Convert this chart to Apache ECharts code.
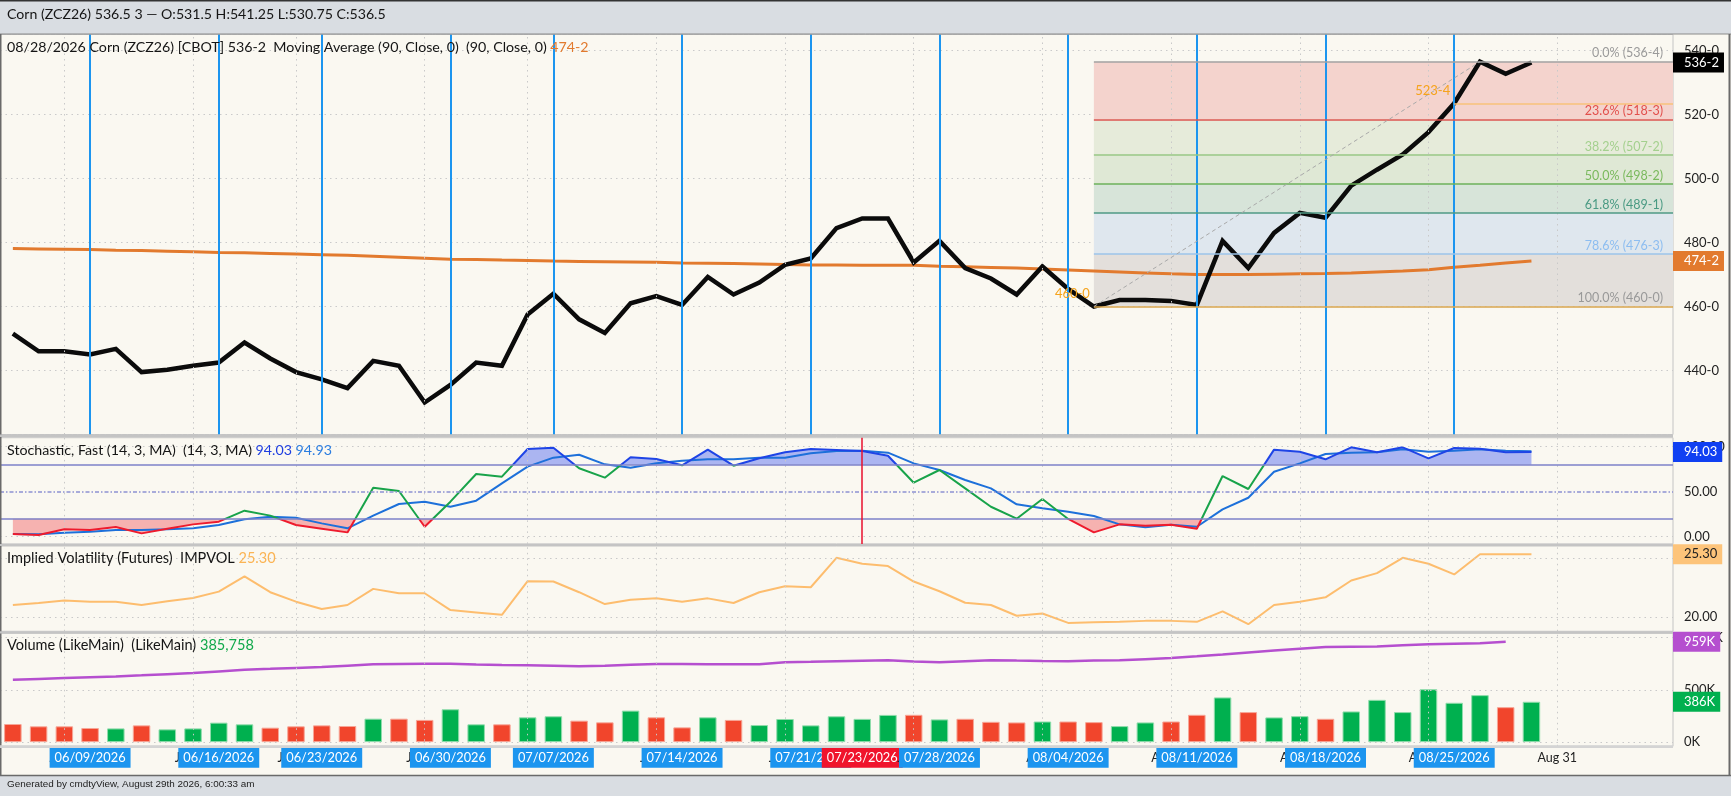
<!DOCTYPE html>
<html><head><meta charset="utf-8">
<script src="https://cdn.jsdelivr.net/npm/echarts@6/dist/echarts.min.js"></script>
<style>html,body{margin:0;padding:0;background:#faf8f1;}#c{width:1731px;height:796px;}</style>
</head><body><div id="c"></div>
<script>
// ---------------- DATA ----------------
const dates = ['06/04/2026','06/05/2026','06/08/2026','06/09/2026','06/10/2026','06/11/2026','06/12/2026','06/15/2026','06/16/2026','06/17/2026','06/18/2026','06/22/2026','06/23/2026','06/24/2026','06/25/2026','06/26/2026','06/29/2026','06/30/2026','07/01/2026','07/02/2026','07/06/2026','07/07/2026','07/08/2026','07/09/2026','07/10/2026','07/13/2026','07/14/2026','07/15/2026','07/16/2026','07/17/2026','07/20/2026','07/21/2026','07/22/2026','07/23/2026','07/24/2026','07/27/2026','07/28/2026','07/29/2026','07/30/2026','07/31/2026','08/03/2026','08/04/2026','08/05/2026','08/06/2026','08/07/2026','08/10/2026','08/11/2026','08/12/2026','08/13/2026','08/14/2026','08/17/2026','08/18/2026','08/19/2026','08/20/2026','08/21/2026','08/24/2026','08/25/2026','08/26/2026','08/27/2026','08/28/2026'];
const futureDates = ['08/31/2026','09/01/2026','09/02/2026','09/03/2026','09/04/2026'];
const closes = [451.5,446,446,445,446.75,439.5,440.25,441.5,442.5,448.75,443.75,439.5,437.25,434.5,443,441.5,430,435.5,442.5,441.5,457.5,464,456,451.75,461,463.25,460.5,469.25,463.75,467.5,473,475,484.5,487.5,487.5,473.75,480.5,472,468.75,463.75,472.5,465.5,460,462,462,461.75,460.5,480.5,472,483,489.25,487.75,497.75,502.75,507.5,514.5,523.5,536.5,532.75,536.25];
const ma90 = [478.1,478.0,477.9,477.8,477.6,477.5,477.3,477.1,476.9,476.8,476.6,476.4,476.2,476.0,475.7,475.4,475.1,474.8,474.7,474.5,474.4,474.2,474.1,474.0,473.9,473.8,473.6,473.5,473.4,473.3,473.1,473.0,473.0,472.9,472.9,472.9,472.6,472.4,472.2,472.0,471.7,471.4,471.1,470.8,470.5,470.2,470.0,470.0,470.0,470.1,470.2,470.3,470.5,470.8,471.1,471.5,472.3,472.9,473.6,474.25];
const stochK = [3.0,1.9,8.2,7.4,10.8,3.7,8.9,13.7,16.7,28.9,23.4,13.0,8.9,4.8,54.5,50.8,11.1,38.9,69.7,66.7,97.4,98.9,76.0,65.6,88.2,86.3,79.3,96.7,78.9,87.1,93.8,97.4,96.3,95.2,90.0,60.0,74.1,53.7,33.3,20.0,41.9,19.7,4.8,13.7,12.2,13.4,8.9,67.4,53.0,96.7,94.4,86.0,99.3,93.8,99.3,87.1,98.6,97.8,93.8,94.03];
const stochD = [3.0,2.6,4.4,5.6,7.4,7.4,8.2,9.3,13.0,19.3,22.2,21.1,14.8,9.3,23.4,36.3,38.9,33.3,40.0,59.3,77.8,87.8,91.1,80.4,76.7,81.5,84.4,86.0,86.0,87.8,87.8,92.6,95.2,95.6,93.4,81.5,74.1,63.0,53.7,36.0,31.5,27.8,23.0,13.7,10.4,13.3,11.1,30.4,43.3,72.2,81.5,91.9,93.4,93.8,97.1,94.4,95.6,97.1,95.6,94.93];
const impVol = [21.02,21.19,21.39,21.3,21.3,21.02,21.33,21.61,22.15,23.43,22.1,21.3,20.68,21.02,22.38,22.01,22.01,20.59,20.39,20.19,23.03,23.0,22.1,21.1,21.47,21.58,21.3,21.58,21.19,22.1,22.6,22.52,25.0,24.5,24.31,23.0,22.18,21.21,21.02,20.11,20.3,19.51,19.57,19.6,19.68,19.68,19.6,20.48,19.4,21.02,21.3,21.67,23.09,23.71,25.0,24.5,23.6,25.3,25.3,25.3];
const volume = [173000,151000,151000,135000,131000,160000,122000,131000,186000,170000,138000,151000,160000,154000,224000,224000,212000,314000,170000,170000,237000,247000,205000,189000,301000,237000,141000,237000,212000,163000,221000,160000,247000,222000,260000,261000,217000,223000,194000,188000,197000,197000,191000,153000,188000,197000,261000,427000,287000,236000,248000,223000,293000,404000,287000,506000,376000,449000,334000,385758];
const volUp = [0,0,0,0,1,0,1,1,1,1,0,0,0,0,1,0,0,1,1,0,1,1,0,0,1,0,0,1,0,1,1,1,1,1,1,0,1,0,0,0,1,0,0,1,1,0,0,1,0,1,1,0,1,1,1,1,1,1,0,1];
const volMA = [596000,604000,612000,620000,628000,638000,649000,660000,676000,692000,700000,709000,718000,731000,744000,747000,749000,750000,742000,736000,734000,729000,724000,731000,739000,747000,746000,745000,744000,744000,763000,767000,772000,777000,782000,770000,764000,774000,783000,779000,776000,774000,779000,783000,793000,803000,820000,838000,857000,876000,892000,908000,911000,914000,925000,936000,941000,946000,959000];
const tuesdayDates = ['06/09/2026','06/16/2026','06/23/2026','06/30/2026','07/07/2026','07/14/2026','07/21/2026','07/28/2026','08/04/2026','08/11/2026','08/18/2026','08/25/2026'];
const highlightDate = '07/23/2026';
const mondayDates = ['06/08/2026','06/15/2026','06/22/2026','06/29/2026','07/06/2026','07/13/2026','07/20/2026','07/27/2026','08/03/2026','08/10/2026','08/17/2026','08/24/2026','08/31/2026'];
const mondayLabels = ['Jun 8','Jun 15','Jun 22','Jun 29','Jul 6','Jul 13','Jul 20','Jul 27','Aug 3','Aug 10','Aug 17','Aug 24','Aug 31'];
const fibRatios = [0, 0.236, 0.382, 0.5, 0.618, 0.786, 1];
const fibLabels = ['0.0% (536-4)','23.6% (518-3)','38.2% (507-2)','50.0% (498-2)','61.8% (489-1)','78.6% (476-3)','100.0% (460-0)'];
const fibHigh = 536.5, fibLow = 460, fibLowIdx = 42, fibHighIdx = 57;
const retraceLevel = 523.5, retraceIdx = 56;

// ---------------- STYLE / LAYOUT ----------------
const FONT = 'Lato';
const BG = '#faf8f1';
const GL = 0, GR = 58;
const P = [
  {top: 34.5, height: 400},
  {top: 437.7, height: 106.2},
  {top: 546, height: 85.3},
  {top: 633.3, height: 113}
];
const fibZoneColors = ['#f4d3cd','#e6ebda','#dfe8d5','#d7e4d9','#dfe7ee','#e3dfdb'];
const fibLineColors = ['#a3a3a3','#dc5450','#97c784','#6db25a','#4f9a85','#9dc4ea','#d8a64e'];
const fibTextColors = ['#9a9a9a','#e2504c','#a4d08e','#7ab95d','#4a9a83','#8dbdf0','#999999'];

const axisCats = dates.concat(futureDates);
const nCat = axisCats.length;
const mondayIdx = mondayDates.map(d => axisCats.indexOf(d));
const tuesIdx = tuesdayDates.map(d => axisCats.indexOf(d));
const hiIdx = axisCats.indexOf(highlightDate);
const last = a => a[a.length - 1];
const toFrac = v => { const w = Math.floor(v + 1e-9); return w + '-' + Math.round((v - w) * 8); };
const kFmt = v => Math.round(v / 1000) + 'K';
const xy = a => a.map((v, i) => [i, v]);

// fit a title's font size so that its width matches the reference text width
const mctx = document.createElement('canvas').getContext('2d');
function fitSize(text, targetW, family) {
  mctx.font = '100px ' + family;
  const w = mctx.measureText(text).width;
  return Math.max(9, Math.min(16, 100 * targetW / w));
}

const dotStyle = {color: '#c9c9c9', type: [1.5, 4], width: 1};
const monLines = cat => mondayIdx.map(i => ({xAxis: cat ? axisCats[i] : i, lineStyle: dotStyle}));
const hLine = (v, style) => ({yAxis: v, lineStyle: style});
const endLabel = (v, text, bg, fg) => ({yAxis: v, lineStyle: {color: 'rgba(0,0,0,0)', width: 1, type: 'solid'},
  label: {show: true, position: 'end', formatter: text, backgroundColor: bg, color: fg,
    padding: [4, 5, 3, 11], fontSize: 13, fontFamily: FONT, distance: 0}});
const mlBase = {silent: true, symbol: ['none', 'none'], animation: false, label: {show: false}};

const fibVals = fibRatios.map(r => fibHigh - r * (fibHigh - fibLow));
const xEnd = nCat - 0.5;
const fibZones = fibZoneColors.map((c, i) => [
  {coord: [fibLowIdx, fibVals[i]], itemStyle: {color: c}},
  {coord: [xEnd, fibVals[i + 1]]}
]);
const fibLines = fibVals.map((v, i) => [
  {coord: [fibLowIdx, v], lineStyle: {color: fibLineColors[i], width: 1.5, type: 'solid'},
   label: {show: true, position: 'insideEndTop', formatter: fibLabels[i], color: fibTextColors[i],
     fontSize: 12.5, fontFamily: FONT, distance: [10, 2]}},
  {coord: [xEnd, v]}
]);

// stochastic fills
function fillPolys(vals, level, above) {
  const polys = []; let cur = null;
  const inside = v => above ? v > level : v < level;
  for (let i = 0; i < vals.length; i++) {
    const v = vals[i], inn = inside(v);
    if (i > 0) {
      const p = vals[i - 1], pin = inside(p);
      if (pin !== inn) {
        const xc = i - 1 + (level - p) / (v - p);
        if (inn) cur = [[xc, level]];
        else { cur.push([xc, level]); polys.push(cur); cur = null; }
      }
    }
    if (inn) { if (!cur) cur = [[i, level]]; cur.push([i, v]); }
  }
  if (cur) { cur.push([vals.length - 1, level]); polys.push(cur); }
  return polys;
}
const upPolys = fillPolys(stochK, 80, true);
const dnPolys = fillPolys(stochK, 20, false);

const near = (v, t) => Math.abs(v - t) < 1e-6;

// titles: list of [segment text, colour]
function makeTitle(segs, targetW, top, family) {
  family = family || FONT;
  const full = segs.map(s => s[0]).join('');
  const fs = fitSize(full, targetW, family);
  const rich = {};
  let text = '';
  segs.forEach((s, i) => {
    rich['s' + i] = {fontSize: fs, fontFamily: family, color: s[1]};
    text += '{s' + i + '|' + s[0] + '}';
  });
  return {text: text, left: 7, top: top - fs * 0.62, padding: 0, z: 20,
    textStyle: {fontSize: fs, fontFamily: family, fontWeight: 'normal', color: '#151515', rich: rich}};
}
const TXT = '#151515';

const chart = echarts.init(document.getElementById('c'), null, {renderer: 'canvas'});
const grids = P.map(p => ({left: GL, right: GR, top: p.top, height: p.height, show: true,
  backgroundColor: BG, borderColor: '#c4c4c4', borderWidth: 1}));

const valX = k => ({type: 'value', gridIndex: k, min: -0.5, max: nCat - 0.5, show: false});
const yBase = {position: 'right', axisLine: {show: false}, axisTick: {show: false}, splitLine: {show: false}};
const yLab = f => ({formatter: f, color: '#222', fontSize: 13, fontFamily: FONT, margin: 11, showMaxLabel: true, showMinLabel: true});

const option = {
  animation: false,
  backgroundColor: BG,
  textStyle: {fontFamily: FONT},
  grid: grids,
  title: [
    makeTitle([['Corn (ZCZ26) 536.5 3 — O:531.5 H:541.25 L:530.75 C:536.5', TXT]], 379, 16),
    makeTitle([[dates[dates.length - 1] + ' Corn (ZCZ26) [CBOT] ' + toFrac(last(closes)) + '  Moving Average (90, Close, 0)  (90, Close, 0) ', TXT],
               [toFrac(last(ma90)), '#e27a2e']], 582, 49.7),
    makeTitle([['Stochastic, Fast (14, 3, MA)  (14, 3, MA) ', TXT], [last(stochK).toFixed(2), '#1f3fe0'], [' ', TXT], [last(stochD).toFixed(2), '#2b7de0']], 325, 452.3),
    makeTitle([['Implied Volatility (Futures)  IMPVOL ', TXT], [last(impVol).toFixed(2), '#fbb454']], 269, 560.2),
    makeTitle([['Volume (LikeMain)  (LikeMain) ', TXT], [last(volume).toLocaleString('en-US'), '#10a84a']], 247, 647.3),
    makeTitle([['Generated by cmdtyView, August 29th 2026, 6:00:33 am', '#222']], 248, 785.8, 'Liberation Sans')
  ],
  graphic: [
    {type: 'rect', z: -5, shape: {x: 0, y: 0, width: 1731, height: 34}, style: {fill: '#d9dde2'}},
    {type: 'line', z: 30, shape: {x1: 0, y1: 0.75, x2: 1731, y2: 0.75}, style: {stroke: '#333', lineWidth: 1.5}},
    {type: 'line', z: 30, shape: {x1: 0, y1: 34, x2: 1731, y2: 34}, style: {stroke: '#8a8a8a', lineWidth: 1}},
    {type: 'rect', z: -5, shape: {x: 0, y: 776, width: 1731, height: 20}, style: {fill: '#d9dde2'}},
    {type: 'line', z: 30, shape: {x1: 0, y1: 775.5, x2: 1731, y2: 775.5}, style: {stroke: '#6a6a6a', lineWidth: 1.5}},
    {type: 'line', z: 30, shape: {x1: 0.75, y1: 34, x2: 0.75, y2: 776}, style: {stroke: '#6a6a6a', lineWidth: 1.5}},
    {type: 'line', z: 30, shape: {x1: 1729.5, y1: 34, x2: 1729.5, y2: 776}, style: {stroke: '#6a6a6a', lineWidth: 2}},
    {type: 'rect', z: 30, shape: {x: 0, y: P[0].top + P[0].height, width: 1731 - GR, height: 2.6}, style: {fill: '#c4c4c4'}},
    {type: 'rect', z: 30, shape: {x: 0, y: P[1].top + P[1].height, width: 1731 - GR, height: 2.2}, style: {fill: '#c4c4c4'}},
    {type: 'rect', z: 30, shape: {x: 0, y: P[2].top + P[2].height, width: 1731 - GR, height: 2.2}, style: {fill: '#c4c4c4'}},
    {type: 'rect', z: 30, shape: {x: 0, y: P[3].top + P[3].height - 1, width: 1731 - GR, height: 2.6}, style: {fill: '#d4d4d4'}}
  ],
  visualMap: [{show: false, type: 'piecewise', seriesIndex: 4, dimension: 1,
    pieces: [{lt: 20, color: '#ee1b2d'}, {gte: 20, lte: 80, color: '#18a34a'}, {gt: 80, color: '#1e44e6'}]}],
  xAxis: [valX(0), valX(1), valX(2), {
    type: 'category', gridIndex: 3, data: axisCats, boundaryGap: true,
    axisLine: {show: false}, axisTick: {show: false}, splitLine: {show: false},
    axisLabel: {interval: 0, margin: 1.5, hideOverlap: false,
      formatter: (val) => {
        if (val === highlightDate) return '{r|' + val + '}';
        if (tuesdayDates.indexOf(val) >= 0) return '{b|' + val + '}';
        const mi = mondayDates.indexOf(val);
        if (mi >= 0) return '{m|' + mondayLabels[mi] + '}';
        return '';
      },
      rich: {
        b: {backgroundColor: '#1c95ef', color: '#fff', padding: [4, 5, 3, 5], fontSize: 12.8, fontFamily: FONT},
        r: {backgroundColor: '#f0142c', color: '#fff', padding: [4, 5, 3, 5], fontSize: 12.8, fontFamily: FONT},
        m: {color: '#222', padding: [4, 0, 3, 0], fontSize: 12.5, fontFamily: FONT}
      }}
  }],
  yAxis: [
    Object.assign({type: 'value', gridIndex: 0, min: 420, max: 545, interval: 20}, yBase, {
      splitLine: {show: true, lineStyle: {color: '#cacaca', type: [1.5, 4], width: 1}},
      axisLabel: yLab(v => (v % 20 === 0 && v > 420 && v <= 540) ? v + '-0' : '')}),
    Object.assign({type: 'value', gridIndex: 1, min: -8, max: 110, interval: 2}, yBase, {
      axisLabel: yLab(v => (near(v, 0) || near(v, 50) || near(v, 100)) ? v.toFixed(2) : '')}),
    Object.assign({type: 'value', gridIndex: 2, min: 18.8, max: 26, interval: 0.2}, yBase, {
      axisLabel: yLab(v => (near(v, 20) || near(v, 25)) ? v.toFixed(2) : '')}),
    Object.assign({type: 'value', gridIndex: 3, min: -40000, max: 1040000, interval: 20000}, yBase, {
      axisLabel: yLab(v => (v === 0 || v === 500000 || v === 1000000) ? kFmt(v) : '')})
  ],
  series: [
    { // 0 moving average
      type: 'line', xAxisIndex: 0, yAxisIndex: 0, data: xy(ma90), symbol: 'none', z: 3,
      lineStyle: {color: '#e27a2e', width: 3},
      markArea: {silent: true, animation: false, data: fibZones},
      markLine: Object.assign({}, mlBase, {data: [
        ...monLines(false),
        ...tuesIdx.map(i => ({xAxis: i, lineStyle: {color: '#1c95ef', width: 2, type: 'solid'}})),
        endLabel(last(ma90), toFrac(last(ma90)), '#e27a2e', '#fff')
      ]})
    },
    { // 1 price
      type: 'line', xAxisIndex: 0, yAxisIndex: 0, data: xy(closes), symbol: 'none', z: 4,
      lineStyle: {color: '#0b0b0b', width: 4.5, join: 'miter'},
      markLine: Object.assign({}, mlBase, {data: [
        ...fibLines,
        [{coord: [fibLowIdx, fibLow], lineStyle: {color: '#a9a9a9', width: 1, type: [4, 3]}}, {coord: [fibHighIdx, fibHigh]}],
        [{coord: [retraceIdx, retraceLevel], lineStyle: {color: '#f8c27a', width: 1.5, type: 'solid'}}, {coord: [xEnd, retraceLevel]}],
        endLabel(last(closes), toFrac(last(closes)), '#000', '#fff')
      ]}),
      markPoint: {silent: true, animation: false, data: [
        {coord: [fibLowIdx, fibLow], symbol: 'circle', symbolSize: 0,
         label: {show: true, position: 'left', distance: 4, offset: [0, -13], formatter: toFrac(fibLow), color: '#f5a31c', fontSize: 13, fontFamily: FONT}},
        {coord: [retraceIdx, retraceLevel], symbol: 'circle', symbolSize: 0,
         label: {show: true, position: 'left', distance: 4, offset: [0, -12], formatter: toFrac(retraceLevel), color: '#f5a31c', fontSize: 13, fontFamily: FONT}}
      ]}
    },
    { // 2 stochastic fills
      type: 'custom', xAxisIndex: 1, yAxisIndex: 1, z: 1, silent: true, data: [[0, 0]],
      renderItem: (params, api) => ({type: 'group', children: [
        ...upPolys.map(p => ({type: 'polygon', shape: {points: p.map(q => api.coord(q))}, style: {fill: '#abb5f1'}})),
        ...dnPolys.map(p => ({type: 'polygon', shape: {points: p.map(q => api.coord(q))}, style: {fill: '#f6b2b0'}}))
      ]})
    },
    { // 3 stochastic %D
      type: 'line', xAxisIndex: 1, yAxisIndex: 1, data: xy(stochD), symbol: 'none', z: 3,
      lineStyle: {color: '#1d70da', width: 2},
      markLine: Object.assign({}, mlBase, {data: [
        ...monLines(false),
        hLine(0, dotStyle), hLine(100, dotStyle),
        hLine(80, {color: '#7d82c8', width: 1.5, type: 'solid'}),
        hLine(20, {color: '#7d82c8', width: 1.5, type: 'solid'}),
        hLine(50, {color: '#8d91d2', width: 1.5, type: [4, 2, 1.5, 2]}),
        {xAxis: hiIdx, lineStyle: {color: '#e8102c', width: 1.5, type: 'solid'}}
      ]})
    },
    { // 4 stochastic %K
      type: 'line', xAxisIndex: 1, yAxisIndex: 1, data: xy(stochK), symbol: 'none', z: 4,
      lineStyle: {width: 2},
      markLine: Object.assign({}, mlBase, {data: [endLabel(last(stochK), last(stochK).toFixed(2), '#1040f2', '#fff')]})
    },
    { // 5 implied volatility
      type: 'line', xAxisIndex: 2, yAxisIndex: 2, data: xy(impVol), symbol: 'none', z: 3,
      lineStyle: {color: '#fdbd6e', width: 2},
      markLine: Object.assign({}, mlBase, {data: [
        ...monLines(false), hLine(20, dotStyle), hLine(25, dotStyle),
        endLabel(last(impVol), last(impVol).toFixed(2), '#fdc47a', '#222')
      ]})
    },
    { // 6 volume bars
      type: 'bar', xAxisIndex: 3, yAxisIndex: 3, barWidth: 17.5, z: 3,
      data: volume.map((v, i) => ({value: v, itemStyle: volUp[i]
        ? {color: '#00b04f', borderColor: '#8fdcab', borderWidth: 1}
        : {color: '#f1452c', borderColor: '#f7a596', borderWidth: 1}})),
      markLine: Object.assign({}, mlBase, {data: [
        ...monLines(true), hLine(0, dotStyle), hLine(500000, dotStyle), hLine(1000000, dotStyle),
        endLabel(last(volume), kFmt(last(volume)), '#00b04f', '#fff')
      ]})
    },
    { // 7 volume moving average
      type: 'line', xAxisIndex: 3, yAxisIndex: 3, data: volMA, symbol: 'none', z: 4,
      lineStyle: {color: '#b54fcf', width: 2.5},
      markLine: Object.assign({}, mlBase, {data: [endLabel(last(volMA), kFmt(last(volMA)), '#b54fcf', '#fff')]})
    }
  ]
};
chart.setOption(option);
</script></body></html>
